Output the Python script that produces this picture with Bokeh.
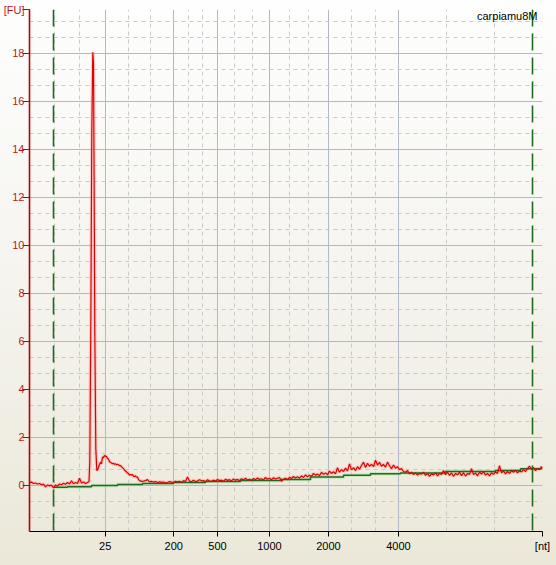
from bokeh.plotting import figure
from bokeh.models import Range1d, FixedTicker, Span, Label
from bokeh.embed import file_html
from bokeh.resources import INLINE

try:
    from bokeh.models import GlobalInlineStyleSheet
except Exception:
    GlobalInlineStyleSheet = None

# ---------------- data ----------------
sample_name = "carpiamu8M"

# ladder: size labels and their migration times (s)
ladder_labels = ["25", "200", "500", "1000", "2000", "4000"]
ladder_time_s = [26.57, 33.43, 37.8, 43.0, 48.9, 55.9]

time_start_s = 19.0
time_end_s = 70.3
x_unit_label = "[nt]"
y_unit_label = "[FU]"

# marker (green dashed) positions (s)
marker_time_s = [21.4, 69.3]

# fluorescence trace
trace_time_s = [
    19.0, 19.2, 19.4, 19.6, 19.8, 20.0, 20.2, 20.4, 20.6, 20.8,
    21.0, 21.2, 21.4, 21.6, 21.8, 22.0, 22.2, 22.4, 22.6, 22.8,
    23.0, 23.2, 23.4, 23.6, 23.8, 24.0, 24.2, 24.4, 24.6, 24.8, 24.95,
    25.03, 25.13, 25.23, 25.33, 25.4, 25.46, 25.53, 25.63, 25.73, 25.83, 25.95,
    26.1, 26.2, 26.3, 26.4, 26.5, 26.6, 26.7, 26.8, 26.9, 27.0,
    27.1, 27.2, 27.3, 27.4, 27.5, 27.6, 27.7, 27.8, 27.9, 28.0,
    28.1, 28.2, 28.3, 28.4, 28.5, 28.6, 28.7, 28.8, 28.9, 29.0,
    29.1, 29.2, 29.3, 29.4, 29.5, 29.6, 29.7, 29.8, 29.9, 30.0,
    30.2, 30.4, 30.6, 30.8, 31.0, 31.2, 31.4, 31.6, 31.8, 32.0,
    32.2, 32.4, 32.6, 32.8, 33.0, 33.2, 33.4, 33.6, 33.8, 34.0,
    34.2, 34.4, 34.6, 34.8, 35.0, 35.2, 35.4, 35.6, 35.8, 36.0,
    36.2, 36.4, 36.6, 36.8, 37.0, 37.2, 37.4, 37.6, 37.8, 38.0,
    38.2, 38.4, 38.6, 38.8, 39.0, 39.2, 39.4, 39.6, 39.8, 40.0,
    40.2, 40.4, 40.6, 40.8, 41.0, 41.2, 41.4, 41.6, 41.8, 42.0,
    42.2, 42.4, 42.6, 42.8, 43.0, 43.2, 43.4, 43.6, 43.8, 44.0,
    44.2, 44.4, 44.6, 44.8, 45.0, 45.2, 45.4, 45.6, 45.8, 46.0,
    46.2, 46.4, 46.6, 46.8, 47.0, 47.2, 47.4, 47.6, 47.8, 48.0,
    48.2, 48.4, 48.6, 48.8, 49.0, 49.2, 49.4, 49.6, 49.8, 50.0,
    50.2, 50.4, 50.6, 50.8, 51.0, 51.2, 51.4, 51.6, 51.8, 52.0,
    52.2, 52.4, 52.6, 52.8, 53.0, 53.2, 53.4, 53.6, 53.8, 54.0,
    54.2, 54.4, 54.6, 54.8, 55.0, 55.2, 55.4, 55.6, 55.8, 56.0,
    56.2, 56.4, 56.6, 56.8, 57.0, 57.2, 57.4, 57.6, 57.8, 58.0,
    58.2, 58.4, 58.6, 58.8, 59.0, 59.2, 59.4, 59.6, 59.8, 60.0,
    60.2, 60.4, 60.6, 60.8, 61.0, 61.2, 61.4, 61.6, 61.8, 62.0,
    62.2, 62.4, 62.6, 62.8, 63.0, 63.2, 63.4, 63.6, 63.8, 64.0,
    64.2, 64.4, 64.6, 64.8, 65.0, 65.2, 65.4, 65.6, 65.8, 66.0,
    66.2, 66.4, 66.6, 66.8, 67.0, 67.2, 67.4, 67.6, 67.8, 68.0,
    68.2, 68.4, 68.6, 68.8, 69.0, 69.2, 69.4, 69.6, 69.8, 70.0,
    70.2, 70.3,
]
trace_fu = [
    0.12, 0.14, 0.08, 0.10, 0.06, 0.08, 0.03, 0.05, -0.06, 0.02,
    -0.02, 0.01, -0.10, 0.02, -0.03, 0.06, 0.03, 0.09, 0.05, 0.12,
    0.06, 0.19, 0.07, 0.12, 0.08, 0.30, 0.10, 0.14, 0.08, 0.12, 0.15,
    1.0, 6.6, 14.7, 18.05, 17.6, 12.9, 6.4, 1.55, 0.62, 0.66, 0.82,
    0.97, 0.90, 1.18, 1.15, 1.25, 1.22, 1.20, 1.12, 1.10, 0.98,
    0.97, 0.93, 0.90, 0.92, 0.88, 0.90, 0.86, 0.88, 0.86, 0.82,
    0.83, 0.78, 0.74, 0.70, 0.64, 0.60, 0.56, 0.51, 0.50, 0.42,
    0.46, 0.43, 0.45, 0.38, 0.37, 0.40, 0.34, 0.35, 0.25, 0.20,
    0.17, 0.18, 0.20, 0.24, 0.15, 0.17, 0.14, 0.16, 0.12, 0.15,
    0.13, 0.14, 0.11, 0.12, 0.16, 0.14, 0.13, 0.17, 0.15, 0.17,
    0.12, 0.20, 0.16, 0.35, 0.18, 0.15, 0.22, 0.16, 0.18, 0.24,
    0.19, 0.20, 0.15, 0.24, 0.18, 0.17, 0.22, 0.18, 0.25, 0.20,
    0.22, 0.17, 0.26, 0.21, 0.24, 0.19, 0.27, 0.22, 0.25, 0.20,
    0.28, 0.23, 0.30, 0.22, 0.26, 0.21, 0.29, 0.24, 0.31, 0.25,
    0.28, 0.23, 0.33, 0.26, 0.30, 0.24, 0.32, 0.27, 0.30, 0.33,
    0.17, 0.26, 0.30, 0.24, 0.34, 0.29, 0.37, 0.31, 0.36, 0.30,
    0.40, 0.33, 0.44, 0.36, 0.42, 0.38, 0.50, 0.43, 0.47, 0.40,
    0.55, 0.46, 0.52, 0.44, 0.60, 0.50, 0.57, 0.48, 0.74, 0.55,
    0.66, 0.58, 0.72, 0.60, 0.90, 0.65, 0.74, 0.62, 0.78, 0.68,
    0.83, 0.97, 0.75, 0.92, 0.80, 0.88, 0.78, 1.05, 0.85, 0.96,
    0.80, 0.88, 0.76, 0.97, 0.82, 0.70, 0.85, 0.72, 0.78, 0.66,
    0.70, 0.58, 0.55, 0.62, 0.48, 0.55, 0.45, 0.52, 0.43, 0.50,
    0.47, 0.55, 0.42, 0.50, 0.38, 0.48, 0.44, 0.52, 0.40, 0.50,
    0.46, 0.62, 0.45, 0.55, 0.42, 0.52, 0.38, 0.50, 0.44, 0.55,
    0.41, 0.53, 0.39, 0.50, 0.46, 0.70, 0.45, 0.52, 0.40, 0.55,
    0.47, 0.58, 0.43, 0.50, 0.40, 0.53, 0.46, 0.56, 0.50, 0.82,
    0.52, 0.60, 0.48, 0.58, 0.50, 0.62, 0.55, 0.64, 0.52, 0.60,
    0.56, 0.66, 0.58, 0.70, 0.80, 0.68, 0.74, 0.62, 0.70, 0.66,
    0.78, 0.72,
]

# baseline (green step line)
baseline_time_s = [21.4, 22.8, 25.2, 27.8, 30.3, 33.4, 36.6, 40.1, 44.1,
                   47.1, 50.4, 53.1, 56.1, 60.6, 65.6, 68.1, 70.3]
baseline_fu = [-0.08, -0.06, 0.0, 0.04, 0.08, 0.12, 0.16, 0.20, 0.25,
               0.35, 0.42, 0.49, 0.52, 0.58, 0.62, 0.69, 0.69]

fu_ticks = [0, 2, 4, 6, 8, 10, 12, 14, 16, 18]
fu_start, fu_end = -1.92, 19.83

# minor grid: three subdivisions between neighbouring major ticks
def thirds(bounds):
    out = []
    for a, b in zip(bounds[:-1], bounds[1:]):
        out += [a + (b - a) / 3.0, a + 2 * (b - a) / 3.0]
    return out

x_minor = thirds([time_start_s] + ladder_time_s + [time_end_s])
y_minor = thirds([-2] + fu_ticks + [20])

# ---------------- figure ----------------
FONT = "Liberation Sans"
RED_AX = "#b80000"

p = figure(width=556, height=565, output_backend="svg", toolbar_location=None,
           x_range=Range1d(time_start_s, time_end_s),
           y_range=Range1d(fu_start, fu_end),
           min_border_left=29, min_border_right=14,
           min_border_top=9, min_border_bottom=34)
p.background_fill_color = None
p.border_fill_color = None
p.outline_line_color = None

# axis tickers carry the unit labels at the range ends; grids use only the ladder
p.xaxis.ticker = FixedTicker(ticks=ladder_time_s + [time_end_s])
p.yaxis.ticker = FixedTicker(ticks=fu_ticks + [fu_end])
p.xgrid.ticker = FixedTicker(ticks=ladder_time_s, minor_ticks=x_minor)
p.ygrid.ticker = FixedTicker(ticks=fu_ticks, minor_ticks=y_minor)
xo = {t: l for t, l in zip(ladder_time_s, ladder_labels)}
xo[time_end_s] = x_unit_label
p.xaxis.major_label_overrides = xo
p.yaxis.major_label_overrides = {fu_end: y_unit_label}

for g in (p.xgrid, p.ygrid):
    g.grid_line_color = "#b3b8c6"
    g.grid_line_width = 1
    g.minor_grid_line_color = "#c9c9c9"
    g.minor_grid_line_dash = "4 4"
    g.minor_grid_line_width = 1

ax = p.xaxis[0]
ax.axis_line_color = "#000000"
ax.axis_line_width = 1.2
ax.major_tick_line_color = "#000000"
ax.major_tick_in = 0
ax.major_tick_out = 5
ax.minor_tick_out = 0
ax.minor_tick_in = 0
ax.major_label_standoff = 3
ax.major_label_text_font = FONT
ax.major_label_text_font_size = "11px"
ax.major_label_text_color = "#000000"

ay = p.yaxis[0]
ay.axis_line_color = RED_AX
ay.axis_line_width = 1.6
ay.major_tick_line_color = RED_AX
ay.major_tick_line_width = 1.2
ay.major_tick_in = 0
ay.major_tick_out = 7
ay.minor_tick_out = 0
ay.minor_tick_in = 0
ay.major_label_standoff = -2
ay.major_label_text_font = FONT
ay.major_label_text_font_size = "11px"
ay.major_label_text_color = "#c01818"

# markers
for m in marker_time_s:
    p.add_layout(Span(location=m, dimension="height", line_color="#1d6b1d",
                      line_width=1.6, line_dash="17 7"))

# traces with soft glow
p.line(trace_time_s, trace_fu, line_color="#ff9c9c", line_width=3.5, line_alpha=0.45)
p.step(baseline_time_s, baseline_fu, mode="after", line_color="#9fe39f",
       line_width=3.5, line_alpha=0.5)
p.step(baseline_time_s, baseline_fu, mode="after", line_color="#1f6a1f",
       line_width=1.5)
p.line(trace_time_s, trace_fu, line_color="#e00000", line_width=1.2)

# sample name, just inside the top-right corner of the plot area
p.add_layout(Label(x=time_end_s, y=fu_end, x_offset=-5, y_offset=0,
                   text=sample_name, text_align="right", text_baseline="top",
                   text_font=FONT, text_font_size="11px", text_color="#000000"))

if GlobalInlineStyleSheet is not None:
    p.stylesheets = [GlobalInlineStyleSheet(
        css="html{min-height:100%;background:linear-gradient(to bottom,#fefefe 0%,#f6f5f0 45%,#ebe8d9 100%);}")]

open("out.html", "w").write(file_html(p, INLINE))
